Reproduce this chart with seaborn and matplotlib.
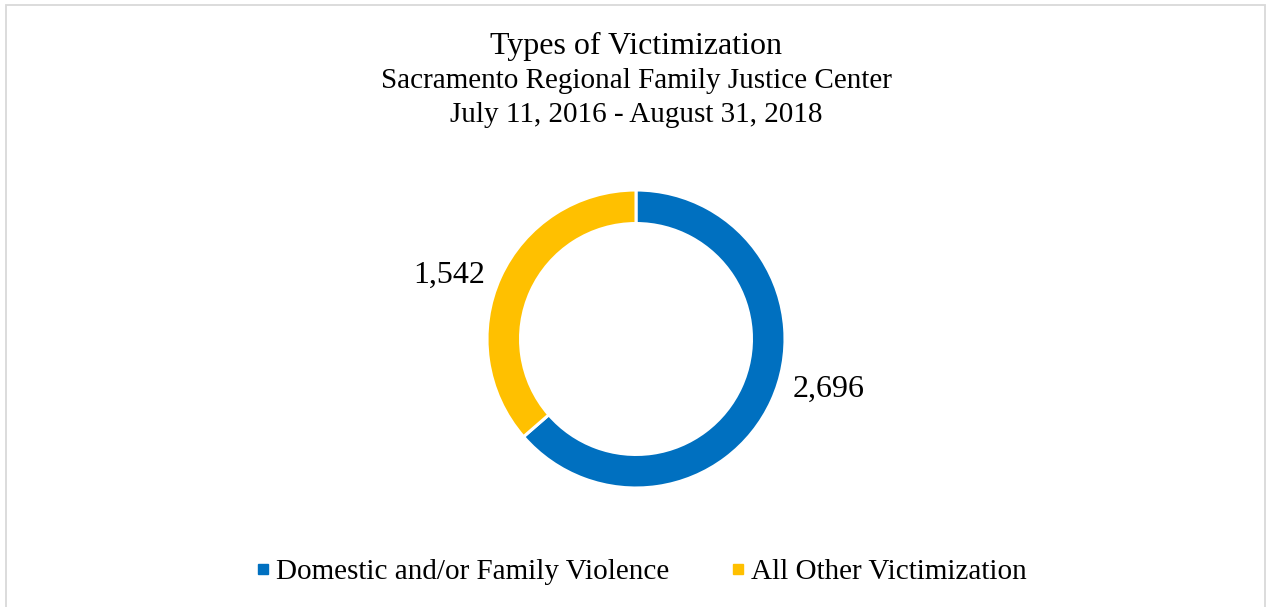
import matplotlib
matplotlib.use("Agg")
import matplotlib.pyplot as plt
import seaborn as sns
from matplotlib.patches import Rectangle
from matplotlib.lines import Line2D

categories = ["Domestic and/or Family Violence", "All Other Victimization"]
values = [2696, 1542]
value_labels = ["2,696", "1,542"]
colors = ["#0070C0", "#FFC000"]

sns.set_theme(style="white")
plt.rcParams['font.family'] = ['Liberation Serif', 'DejaVu Serif']
plt.rcParams['text.color'] = 'black'

fig = plt.figure(figsize=(12.67, 6.07), dpi=100)
W, H = 1267, 607

# light border
fig.add_artist(Rectangle((5.5 / W, -0.05), (1265 - 5.5) / W, (H - 4.5) / H + 0.05,
                         transform=fig.transFigure, fill=False,
                         edgecolor="#D9D9D9", linewidth=1.3))

# donut axes: center (636, 339), radius 149 px
cx, cy, r = 636, 339, 149
ax = fig.add_axes([(cx - r) / W, (H - cy - r) / H, 2 * r / W, 2 * r / H])
wedges, _ = ax.pie(values, colors=colors, startangle=90, counterclock=False,
                   radius=1.0,
                   wedgeprops=dict(width=0.225, edgecolor="white", linewidth=2.2))
ax.set_xlim(-1, 1)
ax.set_ylim(-1, 1)
ax.set_aspect("equal")
ax.axis("off")

# value labels
fig.text(829 / W, 1 - 389 / H, value_labels[0], ha="center", va="center", fontsize=23)
fig.text(449 / W, 1 - 275 / H, value_labels[1], ha="center", va="center", fontsize=23)

# titles
fig.text(636 / W, 1 - 46 / H, "Types of Victimization", ha="center", va="center", fontsize=23)
fig.text(636 / W, 1 - 81 / H, "Sacramento Regional Family Justice Center", ha="center", va="center", fontsize=21)
fig.text(636 / W, 1 - 115 / H, "July 11, 2016 - August 31, 2018", ha="center", va="center", fontsize=21)

handles = [Line2D([0], [0], marker="s", linestyle="none", markersize=7.2,
                  markerfacecolor=c, markeredgecolor=c) for c in colors]
fig.legend(handles, categories, loc="center", bbox_to_anchor=(641 / W, 1 - 572 / H),
           ncol=2, frameon=False, fontsize=21, handletextpad=0.2,
           columnspacing=2.1, handlelength=0.5)

fig.savefig("out.png", dpi=100)
